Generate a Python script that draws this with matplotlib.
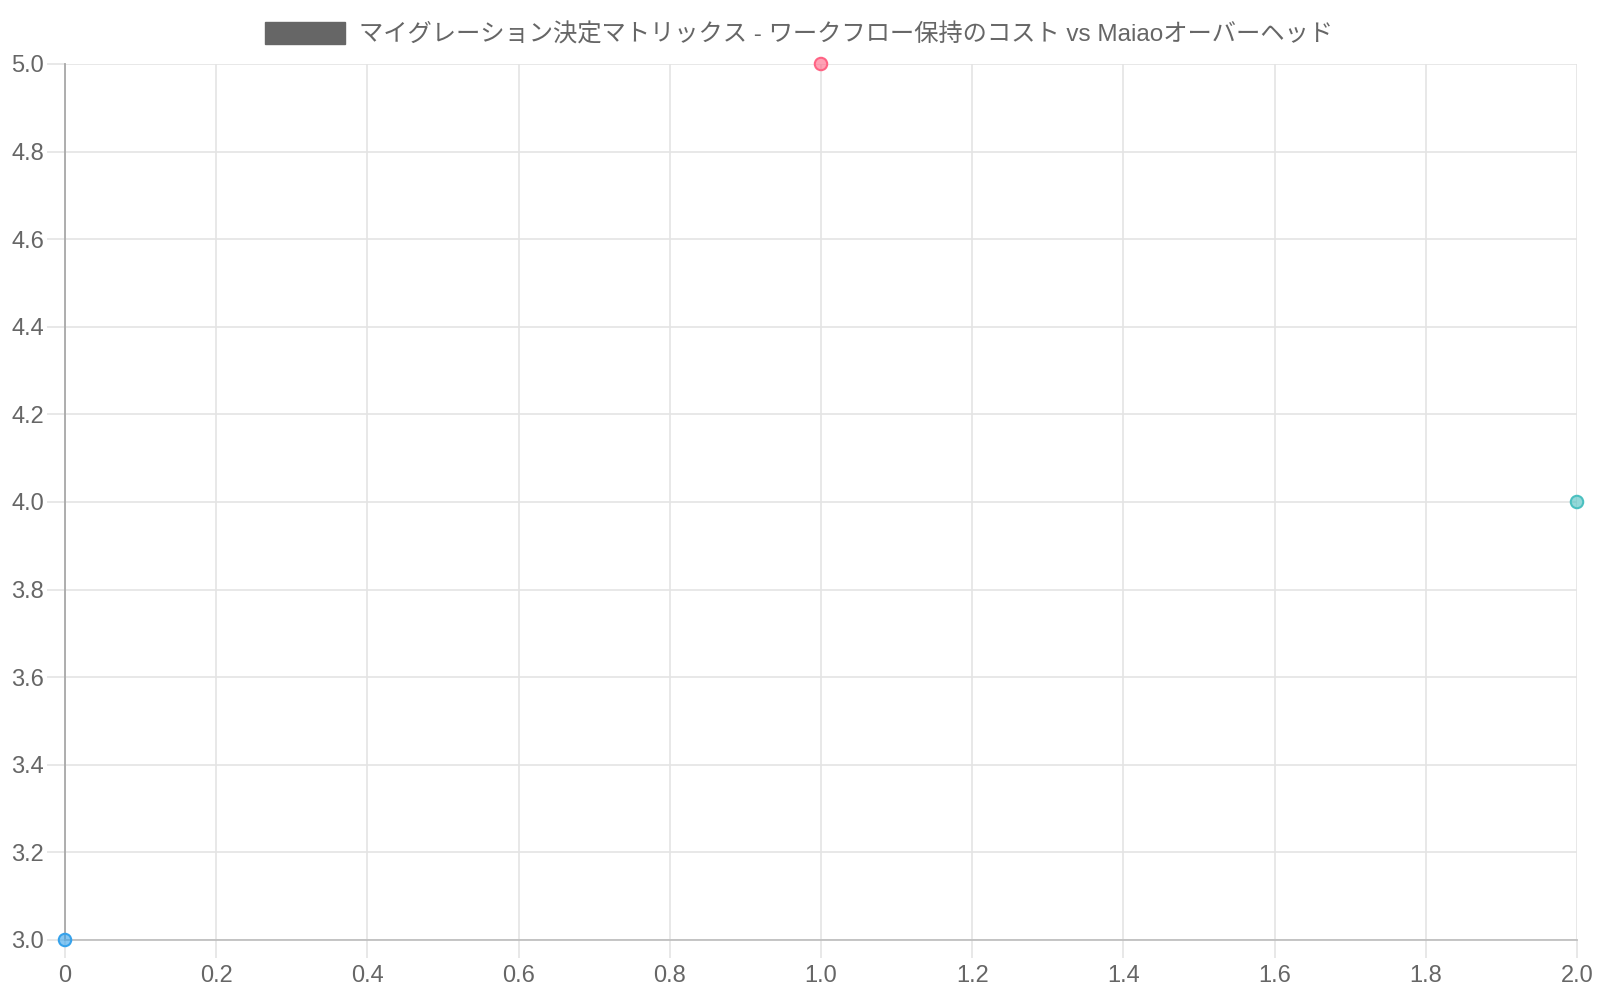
import matplotlib
matplotlib.use("Agg")
import matplotlib.pyplot as plt
from matplotlib.patches import Patch

plt.rcParams['font.family'] = ['Liberation Sans', 'Noto Sans CJK JP', 'DejaVu Sans']

# data
x_vals = [0, 1, 2]
y_vals = [3, 5, 4]
fills = [(54/255, 162/255, 235/255, 0.6), (255/255, 99/255, 132/255, 0.6), (75/255, 192/255, 192/255, 0.6)]
edges = ["#36a2eb", "#ff6384", "#4bc0c0"]
label = "マイグレーション決定マトリックス - ワークフロー保持のコスト vs Maiaoオーバーヘッド"
x_ticks = [0, 0.2, 0.4, 0.6, 0.8, 1.0, 1.2, 1.4, 1.6, 1.8, 2.0]
y_ticks = [3.0, 3.2, 3.4, 3.6, 3.8, 4.0, 4.2, 4.4, 4.6, 4.8, 5.0]

fig = plt.figure(figsize=(16, 10), dpi=100)
ax = fig.add_axes([65/1600, 60/1000, (1577-65)/1600, (940-64)/1000])

ax.scatter(x_vals, y_vals, s=80, c=fills, edgecolors=edges, linewidths=1.5, zorder=5, clip_on=False)

ax.set_xlim(0, 2)
ax.set_ylim(3, 5)
ax.set_xticks(x_ticks)
ax.set_xticklabels(["0", "0.2", "0.4", "0.6", "0.8", "1.0", "1.2", "1.4", "1.6", "1.8", "2.0"])
ax.set_yticks(y_ticks)
ax.set_yticklabels([f"{v:.1f}" for v in y_ticks])

ax.grid(True, color="#e4e4e4", linewidth=1.2)
ax.set_axisbelow(True)
for s in ["top", "right"]:
    ax.spines[s].set_visible(False)
ax.spines["left"].set_color("#a8a8a8")
ax.spines["bottom"].set_color("#c0c0c0")
ax.spines["left"].set_linewidth(1.3)
ax.spines["bottom"].set_linewidth(1.3)
ax.tick_params(axis="both", colors="#e4e4e4", labelcolor="#666666", labelsize=17, length=13, width=1.2, pad=2)
ax.tick_params(axis="x", pad=5)

ax.legend(handles=[Patch(facecolor="#666666", edgecolor="#666666", label=label)],
          loc="lower center", bbox_to_anchor=(0.4855, 1.0), frameon=False, fontsize=17.5,
          labelcolor="#666666", handlelength=3.3, handleheight=1.05, handletextpad=0.6,
          borderaxespad=0.33)

fig.savefig("out.png", dpi=100)
